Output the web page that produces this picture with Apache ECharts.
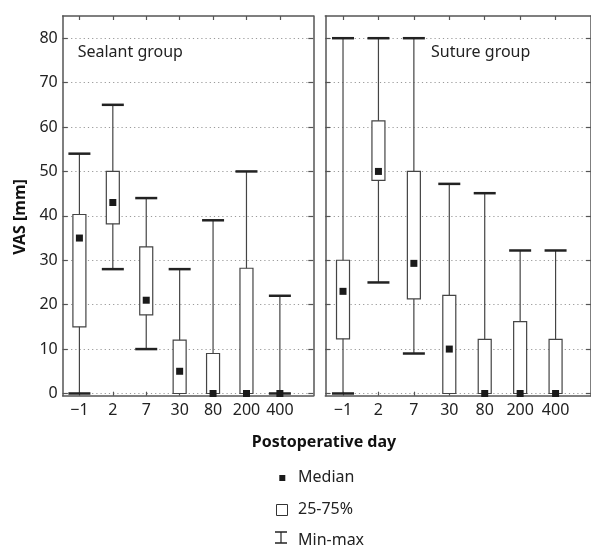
<!DOCTYPE html>
<html>
<head>
<meta charset="utf-8">
<script src="https://cdn.jsdelivr.net/npm/echarts@6/dist/echarts.min.js"></script>
<style>html,body{margin:0;padding:0;background:#fff}#c{width:591px;height:548px}</style>
</head>
<body>
<div id="c"></div>
<script>
const categories = ['\u22121', '2', '7', '30', '80', '200', '400'];
const yTicks = [0, 10, 20, 30, 40, 50, 60, 70, 80];

const sealantMin    = [0, 28, 10, 0, 0, 0, 0];
const sealantQ1     = [15, 38.2, 17.7, 0, 0, 0, 0];
const sealantMedian = [35, 43, 21, 5, 0, 0, 0];
const sealantQ3     = [40.3, 50, 33, 12, 9, 28.2, 0];
const sealantMax    = [54, 65, 44, 28, 39, 50, 22];

const sutureMin    = [0, 25, 9, 0, 0, 0, 0];
const sutureQ1     = [12.3, 48, 21.3, 0, 0, 0, 0];
const sutureMedian = [23, 50, 29.3, 10, 0, 0, 0];
const sutureQ3     = [30, 61.4, 50, 22.1, 12.2, 16.2, 12.2];
const sutureMax    = [80, 80, 80, 47.2, 45.1, 32.2, 32.2];

const FONT = '"Noto Sans", "Open Sans", sans-serif';
const FRAME = '#555';
const xIdx = categories.map((c, i) => i);

function build(mn, q1, md, q3, mx) {
  return categories.map((c, i) => [i, mn[i], q1[i], md[i], q3[i], mx[i]]);
}

function renderBox(params, api) {
  const x = api.value(0);
  const vMin = api.value(1), vQ1 = api.value(2), vMed = api.value(3), vQ3 = api.value(4), vMax = api.value(5);
  const pMin = api.coord([x, vMin]);
  const pQ1 = api.coord([x, vQ1]);
  const pMed = api.coord([x, vMed]);
  const pQ3 = api.coord([x, vQ3]);
  const pMax = api.coord([x, vMax]);
  const cx = pMin[0];
  const bw = 13, cw = 22, ms = 7;
  const children = [];
  children.push({type: 'line', shape: {x1: cx, y1: pMin[1], x2: cx, y2: pMax[1]},
    style: {stroke: '#444', lineWidth: 1.2}});
  if (vQ3 > vQ1) {
    children.push({type: 'rect', shape: {x: cx - bw / 2, y: pQ3[1], width: bw, height: pQ1[1] - pQ3[1]},
      style: {fill: '#fff', stroke: '#444', lineWidth: 1.2}});
  }
  children.push({type: 'line', shape: {x1: cx - cw / 2, y1: pMax[1], x2: cx + cw / 2, y2: pMax[1]},
    style: {stroke: '#222', lineWidth: 2.5}});
  if (vMin < vQ1 || vQ1 === vQ3) {
    children.push({type: 'line', shape: {x1: cx - cw / 2, y1: pMin[1], x2: cx + cw / 2, y2: pMin[1]},
      style: {stroke: '#222', lineWidth: 2.5}});
  }
  children.push({type: 'rect', shape: {x: cx - ms / 2, y: pMed[1] - ms / 2, width: ms, height: ms},
    style: {fill: '#1a1a1a'}});
  return {type: 'group', children: children};
}

const grids = [
  {left: 62.7, top: 16, width: 250.6, height: 379.7},
  {left: 325.3, top: 16, width: 266.7, height: 379.7}
];

const xAxes = [], yAxes = [];
[0, 1].forEach(g => {
  xAxes.push({
    type: 'value', gridIndex: g, position: 'bottom', min: -0.5, max: 7,
    axisLine: {show: true, onZero: false, lineStyle: {color: FRAME, width: 1.5}},
    axisTick: {show: true, inside: true, length: 4, customValues: xIdx, lineStyle: {color: FRAME, width: 1.2}},
    axisLabel: {show: true, customValues: xIdx, margin: 7, color: '#222', fontSize: 16, fontFamily: FONT,
      formatter: v => categories[Math.round(v)]},
    splitLine: {show: false}
  });
  xAxes.push({
    type: 'value', gridIndex: g, position: 'top', min: -0.5, max: 7,
    axisLine: {show: true, onZero: false, lineStyle: {color: FRAME, width: 1.5}},
    axisTick: {show: true, inside: true, length: 4, customValues: xIdx, lineStyle: {color: FRAME, width: 1.2}},
    axisLabel: {show: false},
    splitLine: {show: false}
  });
  yAxes.push({
    type: 'value', gridIndex: g, position: 'left', min: -0.5, max: 85,
    axisLine: {show: true, onZero: false, lineStyle: {color: FRAME, width: 1.5}},
    axisTick: {show: true, inside: true, length: 5, customValues: yTicks, lineStyle: {color: FRAME, width: 1.2}},
    axisLabel: {show: g === 0, customValues: yTicks, margin: 5, color: '#222', fontSize: 16, fontFamily: FONT},
    splitLine: {show: true, lineStyle: {color: '#999', width: 1, type: [1.2, 3]}}
  });
  yAxes.push({
    type: 'value', gridIndex: g, position: 'right', min: -0.5, max: 85,
    axisLine: {show: true, onZero: false, lineStyle: {color: FRAME, width: 1.5}},
    axisTick: {show: true, inside: true, length: 5, customValues: yTicks, lineStyle: {color: FRAME, width: 1.2}},
    axisLabel: {show: false},
    splitLine: {show: false}
  });
});

const chart = echarts.init(document.getElementById('c'), null, {renderer: 'canvas'});
chart.setOption({
  animation: false,
  backgroundColor: '#fff',
  grid: grids,
  xAxis: xAxes,
  yAxis: yAxes,
  series: [
    {name: 'Sealant group', type: 'custom', xAxisIndex: 0, yAxisIndex: 0, renderItem: renderBox,
      data: build(sealantMin, sealantQ1, sealantMedian, sealantQ3, sealantMax), clip: false, z: 5},
    {name: 'Suture group', type: 'custom', xAxisIndex: 2, yAxisIndex: 2, renderItem: renderBox,
      data: build(sutureMin, sutureQ1, sutureMedian, sutureQ3, sutureMax), clip: false, z: 5}
  ],
  graphic: [
    {type: 'text', left: 77.7, top: 44, style: {text: 'Sealant group', fontSize: 16, fontFamily: FONT, fill: '#222'}},
    {type: 'text', left: 431, top: 44, style: {text: 'Suture group', fontSize: 16, fontFamily: FONT, fill: '#222'}},
    {type: 'text', x: 20, y: 217, rotation: Math.PI / 2,
      style: {text: 'VAS [mm]', fontSize: 16, fontWeight: 'bold', fontFamily: FONT, fill: '#111', align: 'center', verticalAlign: 'middle'}},
    {type: 'text', x: 324, y: 442,
      style: {text: 'Postoperative day', fontSize: 16, fontWeight: 'bold', fontFamily: FONT, fill: '#111', align: 'center', verticalAlign: 'middle'}},
    {type: 'rect', shape: {x: 279.3, y: 475, width: 6, height: 6}, style: {fill: '#1a1a1a'}},
    {type: 'text', x: 298, y: 477, style: {text: 'Median', fontSize: 16, fontFamily: FONT, fill: '#222', verticalAlign: 'middle'}},
    {type: 'rect', shape: {x: 276.5, y: 504.5, width: 11, height: 11}, style: {fill: '#fff', stroke: '#333', lineWidth: 1}},
    {type: 'text', x: 298, y: 509, style: {text: '25-75%', fontSize: 16, fontFamily: FONT, fill: '#222', verticalAlign: 'middle'}},
    {type: 'polyline', shape: {points: [[275, 532], [287, 532]]}, style: {stroke: '#222', lineWidth: 1.5}},
    {type: 'polyline', shape: {points: [[281, 532], [281, 543]]}, style: {stroke: '#222', lineWidth: 1.2}},
    {type: 'polyline', shape: {points: [[275, 543], [287, 543]]}, style: {stroke: '#222', lineWidth: 1.5}},
    {type: 'text', x: 298, y: 540, style: {text: 'Min-max', fontSize: 16, fontFamily: FONT, fill: '#222', verticalAlign: 'middle'}}
  ]
});
</script>
</body>
</html>
